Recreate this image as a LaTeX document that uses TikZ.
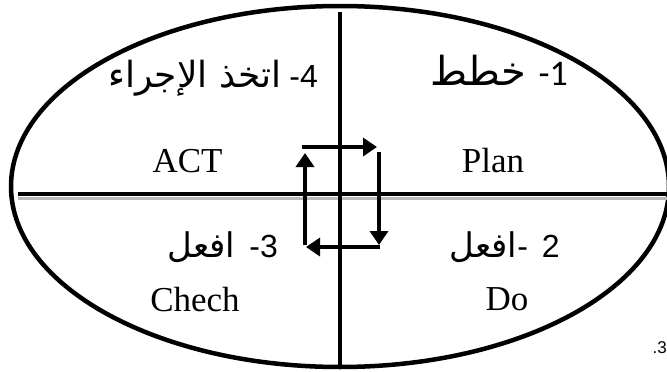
\documentclass[tikz,border=0pt]{standalone}
\usepackage{fontspec}
\setmainfont{Liberation Serif}
\newfontfamily\arabicfont[Script=Arabic]{DejaVu Sans}
\newfontfamily\digitfont{Liberation Sans}
\newfontfamily\calfont{Carlito}
\TeXXeTstate=1
\usetikzlibrary{arrows.meta}

\newcommand{\arsize}[1]{\fontsize{#1}{#1}\selectfont}

\begin{document}
\begin{tikzpicture}[x=1pt,y=-1pt,
  frame/.style={line width=4.5pt},
  axis/.style={line width=4pt},
  shade line/.style={line width=3pt, gray!55},
  cyc/.style={line width=4.5pt, -{Triangle[width=18pt,length=14pt]}},
  lat/.style={font=\fontsize{35}{40}\selectfont, inner sep=0pt},
  arlabel/.style={font=\fontsize{32}{36}\selectfont, inner sep=0pt}]
\useasboundingbox (0,0) rectangle (667,372);
\clip (0,0) rectangle (667,372);

% outer ellipse
\draw[frame] (340,186.5) ellipse [x radius=329, y radius=180.5];

% axes with a grey shadow under the horizontal one
\draw[shade line] (18,198.5) -- (667,198.5);
\draw[axis] (18,194) -- (667,194);
\draw[axis] (340,12) -- (340,369);

% PDCA cycle arrows
\coordinate (ta) at (302,147);
\coordinate (tb) at (377,147);
\coordinate (ra) at (379,152);
\coordinate (rb) at (379,245);
\coordinate (ba) at (380,247);
\coordinate (bb) at (306,247);
\coordinate (la) at (305,245);
\coordinate (lb) at (305,153);
\draw[cyc] (ta) -- (tb);
\draw[cyc] (ra) -- (rb);
\draw[cyc] (ba) -- (bb);
\draw[cyc] (la) -- (lb);

% quadrant labels
\node[arlabel, anchor=base east] (s4) at (318,87)
  {{\arabicfont\arsize{36}\beginR اتخذ الإجراء\endR}\hspace{8pt}{\digitfont -4}};
\node[arlabel, anchor=base east] (s1) at (568,85)
  {{\arabicfont\arsize{40}\beginR خطط\endR}\hspace{4pt}{\calfont\arsize{36} -1}};
\node[arlabel, anchor=base east] (s3) at (278,257)
  {{\arabicfont\arsize{34}\beginR افعل\endR}\hspace{14pt}{\digitfont -3}};
\node[arlabel, anchor=base east] (s2) at (560,257)
  {{\arabicfont\arsize{34}\beginR افعل\endR}{\digitfont -}\hspace{14pt}{\digitfont 2}};

\node[lat, anchor=base] (act) at (187.5,172) {ACT};
\node[lat, anchor=base] (plan) at (493,172) {Plan};
\node[lat, anchor=base] (chk) at (195,311) {Chech};
\node[lat, anchor=base] (do) at (507,310) {Do};

\node[font=\digitfont\fontsize{17}{20}\selectfont, anchor=base east, inner sep=0pt] (n3) at (667,353) {.3};
\end{tikzpicture}
\end{document}
